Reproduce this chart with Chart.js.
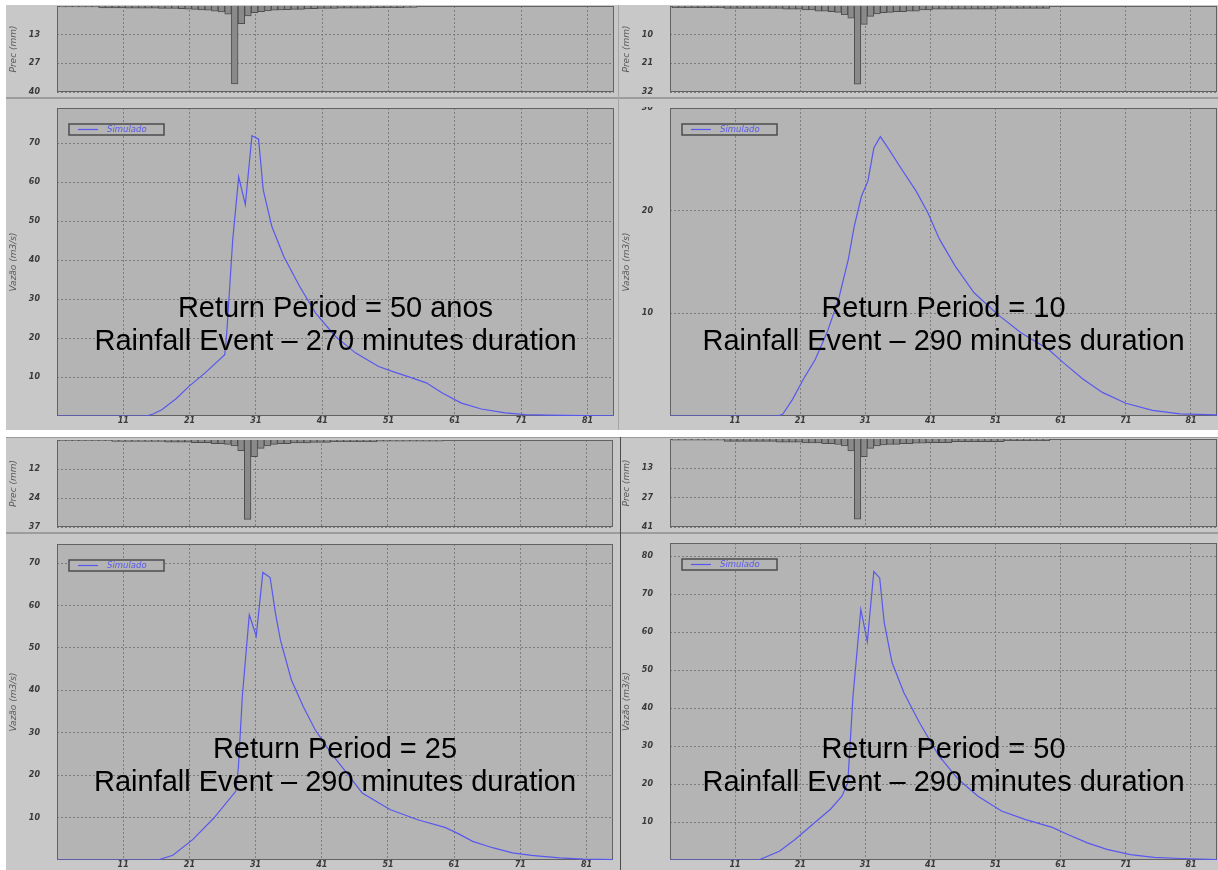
<!DOCTYPE html>
<html>
<head>
<meta charset="utf-8">
<script src="https://cdn.jsdelivr.net/npm/chart.js@4.4.1/dist/chart.umd.min.js"></script>
<style>
  html, body { margin: 0; padding: 0; background: #ffffff; }
  body { position: relative; width: 1218px; height: 870px; overflow: hidden; }
  .band { position: absolute; background: #c8c8c8; }
  .rule { position: absolute; }
  canvas { position: absolute; }
</style>
</head>
<body>
<div class="band" style="left:6px;top:5px;width:1212px;height:425px"></div>
<div class="band" style="left:6px;top:437px;width:1212px;height:433px"></div>
<div class="rule" style="left:6px;top:97px;width:1212px;height:2px;background:#9c9c9c"></div>
<div class="rule" style="left:618px;top:5px;width:1px;height:425px;background:#a6a6a6"></div>
<div class="rule" style="left:6px;top:437px;width:1212px;height:1px;background:#9a9a9a"></div>
<div class="rule" style="left:6px;top:532px;width:1212px;height:2px;background:#9c9c9c"></div>
<div class="rule" style="left:620px;top:437px;width:1px;height:433px;background:#4a4a4a"></div>

<script>
// ---- time axis (5-minute intervals) ----
const timeTicks = [11, 21, 31, 41, 51, 61, 71, 81];
const TIME_MIN = 1;
const TIME_MAX = 85;

// ---- rainfall per interval, mm (alternating-block hyetographs) ----
const precT50d270 = [0.4,0.4,0.4,0.4,0.4,0.4, 0.9,0.9,0.9,0.9, 1.0,1.0,1.0,1.0,1.0, 1.1, 1.2,1.2,1.3, 1.5,1.6, 1.9,2.0, 2.4,2.8, 3.9,
  36.8, 8.3, 4.7, 3.1, 2.7, 2.3, 2.0,1.9, 1.7,1.6,1.6, 1.4,1.3, 1.1,1.1,1.1,1.0,1.0,1.0,1.0,1.0, 0.8,0.8,0.8,0.8,0.8,0.7,0.7];
const precT10d290 = [0.6,0.6,0.6,0.6,0.6,0.6,0.6,0.6, 0.9,0.9,0.9,0.9,0.9,0.9,0.9,0.9,0.9, 1.2,1.2,1.2, 1.5,1.5, 1.9,1.9, 2.1, 2.4, 3.3, 4.6,
  29.4, 6.9, 3.9, 3.0, 2.5, 2.4, 2.1,2.1, 1.9,1.9, 1.5,1.5, 1.2,1.2,1.2,1.2,1.2,1.2,1.2,1.2,1.2,1.2, 0.9,0.9,0.9,0.9,0.9,0.9,0.9,0.9];
const precT25d290 = [0.3,0.3,0.3,0.3,0.3,0.3,0.3,0.3, 0.6,0.6,0.6,0.6,0.6,0.6,0.6,0.6, 0.9,0.9,0.9,0.9, 1.2,1.2,1.2, 1.6,1.6, 1.9, 2.5, 4.6,
  34.1, 7.2, 3.6, 2.5, 1.9, 1.6,1.6, 1.3,1.3,1.3, 1.0,1.0,1.0, 0.7,0.7,0.7,0.7,0.7,0.7,0.7, 0.45,0.45,0.45,0.45,0.45,0.45,0.45,0.45,0.45,0.45];
const precT50d290 = [0.6,0.6,0.6,0.6,0.6,0.6,0.6,0.6, 1.1,1.1,1.1,1.1,1.1,1.1,1.1,1.1, 1.5,1.5,1.5,1.5, 1.8,1.8,1.8, 2.2,2.2, 2.6, 3.2, 5.6,
  37.7, 8.3, 4.4, 3.3, 2.8, 2.5,2.5, 2.2,2.2, 2.0,2.0, 1.7,1.7,1.7,1.7, 1.25,1.25,1.25,1.25,1.25,1.25,1.25,1.25, 0.8,0.8,0.8,0.8,0.8,0.8,0.8];

// rainfall axis extent and its tick labels (ticks sit at thirds of the extent)
const precMax = [40.6, 32.3, 37.4, 41.4];
const precTickLabels = [['13', '27', '40'], ['10', '21', '32'], ['12', '24', '37'], ['13', '27', '41']];

// ---- simulated discharge, m3/s ----
const flowTimeT50d270 = [1, 14.4, 15.5, 16.8, 19, 20.9, 23.3, 26.3, 26.6, 27.5, 28.4, 29.4, 30.4, 31.4, 32.1, 33.4, 35.2, 37.6, 40, 43,
  46, 49.5, 52, 54.3, 56.7, 59.1, 62, 65, 68.6, 71.6, 75, 80.5, 85];
const flowT50d270 = [0, 0, 0.5, 1.6, 4.5, 7.6, 11, 15.7, 21.3, 45.2, 61.3, 54.2, 71.9, 71, 58, 48.6, 40.9, 33.2, 26.4, 20.4,
  16.2, 12.7, 11.2, 9.9, 8.5, 5.9, 3.3, 1.8, 0.8, 0.35, 0.2, 0.1, 0.05];

const flowTimeT10d290 = [1, 17.5, 18.3, 19.8, 21.5, 23.3, 25.1, 26.9, 28.4, 29.3, 30.4, 31.4, 32.3, 33.3, 34.6, 36.4, 38.8, 40.6, 42.4, 44.8,
  47.7, 51.3, 54.9, 59.1, 61.4, 64.4, 67.4, 71, 75.1, 79.3, 85];
const flowT10d290 = [0, 0, 0.17, 1.6, 3.6, 5.5, 8.1, 11.4, 15.3, 18.5, 21.4, 22.9, 26.1, 27.2, 26, 24.2, 21.9, 19.8, 17.2, 14.6,
  12, 9.9, 8.1, 6.5, 5.2, 3.6, 2.3, 1.24, 0.55, 0.2, 0.1];

const flowTimeT25d290 = [1, 16.2, 18.5, 21.5, 24.7, 28, 28.4, 29, 30.05, 31.1, 32.1, 33.2, 34, 34.75, 36.4, 38.2, 40, 42.4, 44.8, 47.1,
  51.3, 55.5, 59.6, 61.4, 63.8, 66.8, 69.8, 72.7, 76.9, 80.5, 85];
const flowT25d290 = [0, 0, 1.1, 4.8, 9.9, 16.2, 21.7, 38.6, 57.8, 52.8, 67.8, 66.6, 58.2, 51.9, 42.5, 36.2, 30.7, 25.2, 20.5, 15.8,
  11.9, 9.5, 7.7, 6.4, 4.4, 2.9, 1.7, 1.1, 0.5, 0.2, 0.1];

const flowTimeT50d290 = [1, 14.6, 17.8, 20.2, 23.2, 25.6, 27.4, 28.3, 29.1, 30.3, 31.3, 32.3, 33.2, 33.9, 35.1, 36.9, 39.3, 42.3, 45.3, 48.3,
  51.9, 55.5, 59.7, 62.1, 65.1, 68.1, 71.7, 75.3, 79.4, 85];
const flowT50d290 = [0, 0, 2.3, 5.4, 9.8, 13.3, 16.8, 20.3, 43.1, 66, 57.5, 76, 74.3, 62.5, 52, 44.1, 36.2, 27.4, 21.2, 16.8,
  12.9, 10.7, 8.6, 6.7, 4.5, 2.8, 1.4, 0.7, 0.4, 0.1];

// discharge axis extents and tick values
const flowMax = [79, 30, 74.5, 83.5];
const flowTicks = [
  [10, 20, 30, 40, 50, 60, 70],
  [10, 20, 30],
  [10, 20, 30, 40, 50, 60, 70],
  [10, 20, 30, 40, 50, 60, 70, 80]
];

const seriesLabel = 'Simulado';
const precAxisTitle = 'Prec (mm)';
const flowAxisTitle = 'Vazão (m3/s)';

const headings = [
  ['Return Period = 50 anos', 'Rainfall Event – 270 minutes duration'],
  ['Return Period = 10', 'Rainfall Event – 290 minutes duration'],
  ['Return Period = 25', 'Rainfall Event – 290 minutes duration'],
  ['Return Period = 50', 'Rainfall Event – 290 minutes duration']
];

// ---- layout: plot rectangles on the page (left, top, right, bottom) ----
const layoutPanels = [
  {rain: {L: 57, T: 6, R: 614, B: 92},    flow: {L: 57, T: 108, R: 614, B: 416},  below: 14},
  {rain: {L: 670, T: 6, R: 1217, B: 92},  flow: {L: 670, T: 108, R: 1217, B: 416}, below: 14},
  {rain: {L: 57, T: 440, R: 613, B: 527}, flow: {L: 57, T: 544, R: 613, B: 860},  below: 10},
  {rain: {L: 670, T: 439, R: 1217, B: 527}, flow: {L: 670, T: 543, R: 1217, B: 860}, below: 10}
];

// ---- styles ----
const AXIS_W = 52;
const BAR_CENTER_SHIFT = 0.8;
const PLOT_BG = '#b4b4b4';
const FRAME = '#626262';
const GRID = '#7c7c7c';
const LINE_BLUE = '#5858ee';
const TICK_FONT = {family: '"DejaVu Sans", Verdana, sans-serif', size: 8, style: 'italic', weight: 'bold'};
const TICK_COLOR = '#3a3a3a';
const TITLE_FONT = {family: '"DejaVu Sans", Verdana, sans-serif', size: 9, style: 'italic', weight: 'normal'};
const TITLE_COLOR = '#5a5a5a';

// plot background and frame
const plotFrame = {
  id: 'plotFrame',
  beforeDraw(chart) {
    const {ctx, chartArea: a} = chart;
    ctx.save();
    ctx.fillStyle = PLOT_BG;
    ctx.fillRect(a.left, a.top, a.right - a.left, a.bottom - a.top);
    ctx.restore();
  },
  beforeDatasetsDraw(chart) {
    const {ctx, chartArea: a} = chart;
    ctx.save();
    ctx.strokeStyle = FRAME;
    ctx.lineWidth = 1;
    ctx.strokeRect(a.left + 0.5, a.top + 0.5, a.right - a.left - 1, a.bottom - a.top - 1);
    ctx.restore();
  }
};

// boxed legend inside the plot, upper left
const insetLegend = {
  id: 'insetLegend',
  afterDatasetsDraw(chart, args, opts) {
    if (!opts.show) return;
    const {ctx, chartArea: a} = chart;
    const ds = chart.data.datasets[0];
    const x = a.left + 12, y = a.top + 16, w = 95, h = 11;
    ctx.save();
    ctx.fillStyle = PLOT_BG;
    ctx.fillRect(x, y, w, h);
    ctx.strokeStyle = '#4c4c4c';
    ctx.lineWidth = 1.5;
    ctx.strokeRect(x, y, w, h);
    ctx.strokeStyle = ds.borderColor;
    ctx.lineWidth = 1.2;
    ctx.beginPath();
    ctx.moveTo(x + 9, y + h / 2);
    ctx.lineTo(x + 29, y + h / 2);
    ctx.stroke();
    ctx.fillStyle = ds.borderColor;
    ctx.font = 'italic 8.5px "DejaVu Sans", Verdana, sans-serif';
    ctx.textBaseline = 'middle';
    ctx.fillText(ds.label, x + 38, y + h / 2 + 0.5);
    ctx.restore();
  }
};

// two-line heading over the discharge plot
const caption = {
  id: 'caption',
  afterDraw(chart, args, opts) {
    if (!opts.lines) return;
    const {ctx, chartArea: a} = chart;
    ctx.save();
    ctx.fillStyle = '#000000';
    ctx.font = '29px "Liberation Sans", Arial, sans-serif';
    ctx.textAlign = 'center';
    ctx.textBaseline = 'alphabetic';
    const cx = (a.left + a.right) / 2;
    const y0 = a.top + (a.bottom - a.top) * 0.677;
    opts.lines.forEach((t, i) => ctx.fillText(t, cx, y0 + i * 33.4));
    ctx.restore();
  }
};

function fixSize(prop, size) {
  return s => {
    s[prop] = size;
    s.paddingTop = 0; s.paddingBottom = 0; s.paddingLeft = 0; s.paddingRight = 0;
  };
}

function placeCanvas(plot, below) {
  const x = plot.L - AXIS_W, y = plot.T - 1;
  const w = plot.R - x + 1, h = plot.B - y + below;
  const c = document.createElement('canvas');
  c.width = w; c.height = h;
  c.style.left = x + 'px'; c.style.top = y + 'px';
  c.style.width = w + 'px'; c.style.height = h + 'px';
  document.body.appendChild(c);
  return c;
}

function timeAxis(showLabels, below) {
  return {
    type: 'linear', min: TIME_MIN, max: TIME_MAX, offset: false,
    afterBuildTicks: s => { s.ticks = timeTicks.map(v => ({value: v})); },
    afterFit: fixSize('height', below),
    grid: {color: GRID, lineWidth: 1, drawTicks: false, offset: false},
    border: {display: false, dash: [2, 2]},
    ticks: {display: showLabels, padding: 0, maxRotation: 0, minRotation: 0, autoSkip: false, font: TICK_FONT, color: TICK_COLOR}
  };
}

function baseOptions() {
  return {
    responsive: false, animation: false, devicePixelRatio: 1, events: [],
    layout: {padding: {top: 1, right: 1, left: 0, bottom: 0}},
    plugins: {legend: {display: false}, tooltip: {enabled: false}}
  };
}

function rainChart(plot, values, pMax, labels) {
  const canvas = placeCanvas(plot, 6);
  const opts = baseOptions();
  opts.scales = {
    x: timeAxis(false, 6),
    y: {
      type: 'linear', reverse: true, min: 0, max: pMax,
      afterBuildTicks: s => { s.ticks = [1, 2, 3].map(k => ({value: pMax * k / 3})); },
      afterFit: fixSize('width', AXIS_W),
      grid: {color: GRID, lineWidth: 1, drawTicks: false},
      border: {display: false, dash: [2, 2]},
      ticks: {padding: 17, font: TICK_FONT, color: TICK_COLOR, callback: (v, i) => labels[i]},
      title: {display: true, text: precAxisTitle, font: TITLE_FONT, color: TITLE_COLOR, padding: {top: 3, bottom: 0}}
    }
  };
  return new Chart(canvas, {
    type: 'bar',
    data: {
      datasets: [{
        data: values.map((v, i) => ({x: i + 1 + BAR_CENTER_SHIFT, y: v})),
        backgroundColor: '#8a8a8a', borderColor: '#4e4e4e', borderWidth: 1,
        barPercentage: 1, categoryPercentage: 1
      }]
    },
    options: opts,
    plugins: [plotFrame]
  });
}

function flowChart(plot, below, times, flows, yMax, ticks, lines) {
  const canvas = placeCanvas(plot, below);
  const opts = baseOptions();
  opts.plugins.insetLegend = {show: true};
  opts.plugins.caption = {lines: lines};
  opts.scales = {
    x: timeAxis(true, below),
    y: {
      type: 'linear', min: 0, max: yMax,
      afterBuildTicks: s => { s.ticks = ticks.map(v => ({value: v})); },
      afterFit: fixSize('width', AXIS_W),
      grid: {color: GRID, lineWidth: 1, drawTicks: false},
      border: {display: false, dash: [2, 2]},
      ticks: {padding: 17, font: TICK_FONT, color: TICK_COLOR},
      title: {display: true, text: flowAxisTitle, font: TITLE_FONT, color: TITLE_COLOR, padding: {top: 3, bottom: 0}}
    }
  };
  return new Chart(canvas, {
    type: 'line',
    data: {
      datasets: [{
        label: seriesLabel,
        data: times.map((t, i) => ({x: t, y: flows[i]})),
        borderColor: LINE_BLUE, borderWidth: 1.2, pointRadius: 0, tension: 0, fill: false
      }]
    },
    options: opts,
    plugins: [plotFrame, insetLegend, caption]
  });
}

const rainSeries = [precT50d270, precT10d290, precT25d290, precT50d290];
const flowTimes = [flowTimeT50d270, flowTimeT10d290, flowTimeT25d290, flowTimeT50d290];
const flowSeries = [flowT50d270, flowT10d290, flowT25d290, flowT50d290];

layoutPanels.forEach((p, i) => {
  rainChart(p.rain, rainSeries[i], precMax[i], precTickLabels[i]);
  flowChart(p.flow, p.below, flowTimes[i], flowSeries[i], flowMax[i], flowTicks[i], headings[i]);
});
</script>
</body>
</html>
